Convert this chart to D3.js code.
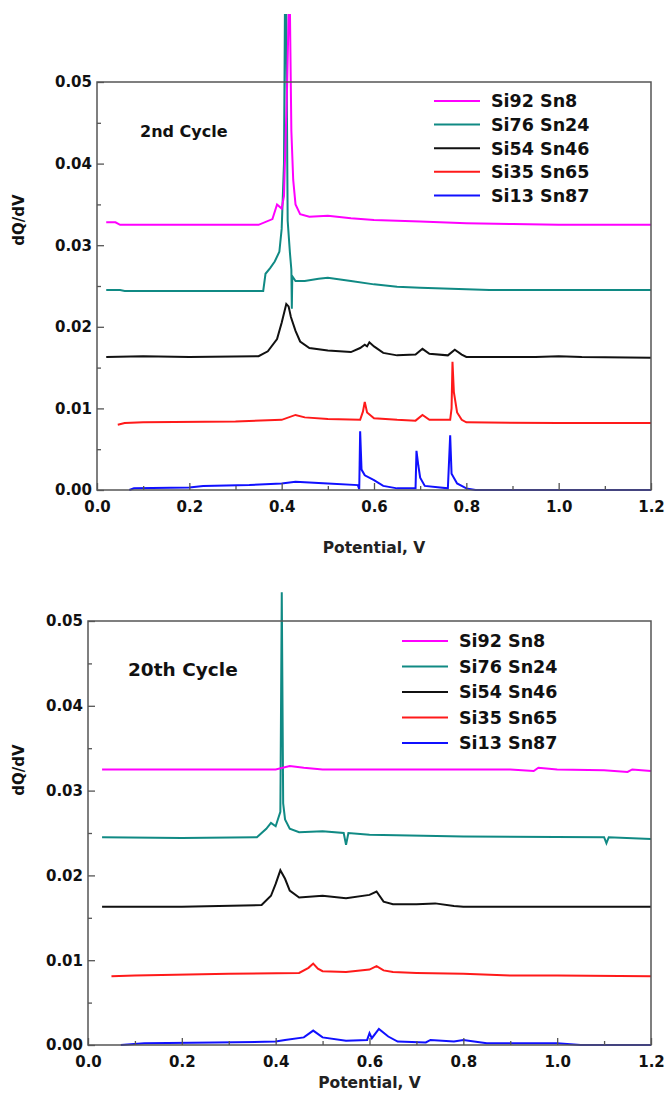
<!DOCTYPE html>
<html>
<head>
<meta charset="utf-8">
<script src="https://cdnjs.cloudflare.com/ajax/libs/d3/7.8.5/d3.min.js"></script>
<style>
  body { margin: 0; background: #fff; }
  text { font-family: "DejaVu Sans", Arial, sans-serif; }
</style>
</head>
<body>
<div id="chart"></div>
<script>
// series names and colours
let seriesNames = ["Si92 Sn8", "Si76 Sn24", "Si54 Sn46", "Si35 Sn65", "Si13 Sn87"];
let seriesColors = ["#ff00ff", "#108a84", "#111111", "#ff1a1a", "#1010ff"];

let xTicks = [0.0, 0.2, 0.4, 0.6, 0.8, 1.0, 1.2];
let yTicks = [0.00, 0.01, 0.02, 0.03, 0.04, 0.05];

// 2nd cycle, [potential V, dQ/dV]
let c2Si92 = [[0.02,0.0328],[0.04,0.0328],[0.05,0.0325],[0.2,0.0325],[0.35,0.0325],[0.38,0.0332],[0.39,0.0350],[0.40,0.0345],[0.405,0.0360],
  [0.412,0.0500],[0.415,0.0582],[0.418,0.0582],[0.421,0.0440],[0.425,0.0380],[0.43,0.0350],[0.44,0.0338],[0.46,0.0335],[0.5,0.0336],
  [0.55,0.0333],[0.6,0.0331],[0.7,0.0329],[0.8,0.0327],[0.9,0.0326],[1.0,0.0325],[1.1,0.0325],[1.2,0.0325]];
let c2Si76 = [[0.02,0.0245],[0.05,0.0245],[0.06,0.0244],[0.2,0.0244],[0.36,0.0244],[0.365,0.0265],[0.375,0.0272],[0.385,0.0280],[0.395,0.0292],
  [0.40,0.0320],[0.405,0.0400],[0.407,0.0582],[0.410,0.0582],[0.413,0.0330],[0.418,0.0290],[0.421,0.0270],[0.422,0.0222],[0.423,0.0262],
  [0.43,0.0256],[0.45,0.0256],[0.48,0.0259],[0.5,0.0260],[0.55,0.0256],[0.6,0.0252],[0.65,0.0249],[0.7,0.0248],[0.8,0.0246],[0.85,0.0245],
  [1.0,0.0245],[1.2,0.0245]];
let c2Si54 = [[0.02,0.0163],[0.1,0.0164],[0.2,0.0163],[0.35,0.0164],[0.37,0.0170],[0.39,0.0185],[0.40,0.0205],[0.41,0.0228],[0.415,0.0225],
  [0.42,0.0212],[0.43,0.0195],[0.44,0.0182],[0.46,0.0174],[0.5,0.0171],[0.55,0.0169],[0.57,0.0174],[0.58,0.0178],[0.585,0.0176],
  [0.59,0.0181],[0.60,0.0176],[0.62,0.0168],[0.65,0.0165],[0.69,0.0166],[0.705,0.0173],[0.72,0.0167],[0.76,0.0165],[0.775,0.0172],
  [0.79,0.0166],[0.8,0.0163],[0.95,0.0163],[1.0,0.0164],[1.05,0.0163],[1.2,0.0162]];
let c2Si35 = [[0.045,0.0080],[0.06,0.0082],[0.1,0.0083],[0.3,0.0084],[0.4,0.0086],[0.43,0.0092],[0.45,0.0089],[0.5,0.0087],[0.57,0.0086],
  [0.576,0.0096],[0.58,0.0108],[0.585,0.0095],[0.6,0.0088],[0.65,0.0086],[0.69,0.0085],[0.705,0.0092],[0.72,0.0086],[0.765,0.0086],
  [0.768,0.0100],[0.770,0.0157],[0.773,0.0120],[0.78,0.0095],[0.79,0.0086],[0.8,0.0083],[1.0,0.0082],[1.2,0.0082]];
let c2Si13 = [[0.07,0.0000],[0.08,0.0002],[0.2,0.0003],[0.23,0.0005],[0.33,0.0006],[0.4,0.0008],[0.43,0.0010],[0.47,0.0009],[0.5,0.0008],
  [0.565,0.0006],[0.568,0.0001],[0.570,0.0072],[0.573,0.0025],[0.58,0.0018],[0.6,0.0012],[0.62,0.0005],[0.65,0.0002],[0.69,0.0002],
  [0.692,0.0048],[0.696,0.0030],[0.70,0.0015],[0.71,0.0005],[0.76,0.0002],[0.765,0.0067],[0.768,0.0020],[0.78,0.0008],[0.80,0.0002],
  [0.82,0.0000],[1.2,0.0000]];

// 20th cycle
let c20Si92 = [[0.03,0.0325],[0.2,0.0325],[0.4,0.0325],[0.43,0.0329],[0.46,0.0327],[0.5,0.0325],[0.7,0.0325],[0.9,0.0325],[0.95,0.0323],
  [0.96,0.0327],[1.0,0.0325],[1.1,0.0324],[1.15,0.0322],[1.16,0.0325],[1.2,0.0323]];
let c20Si76 = [[0.03,0.0245],[0.2,0.0244],[0.36,0.0245],[0.38,0.0255],[0.39,0.0262],[0.40,0.0258],[0.41,0.0275],[0.413,0.0534],
  [0.416,0.0285],[0.42,0.0266],[0.43,0.0255],[0.45,0.0251],[0.5,0.0252],[0.545,0.0250],[0.55,0.0236],[0.555,0.0250],[0.6,0.0248],
  [0.8,0.0246],[1.1,0.0245],[1.105,0.0238],[1.11,0.0245],[1.2,0.0243]];
let c20Si54 = [[0.03,0.0163],[0.2,0.0163],[0.37,0.0165],[0.39,0.0176],[0.40,0.0190],[0.41,0.0206],[0.42,0.0196],[0.43,0.0182],[0.45,0.0174],
  [0.5,0.0176],[0.55,0.0173],[0.6,0.0177],[0.615,0.0181],[0.63,0.0169],[0.65,0.0166],[0.7,0.0166],[0.74,0.0167],[0.78,0.0164],
  [0.8,0.0163],[1.0,0.0163],[1.2,0.0163]];
let c20Si35 = [[0.05,0.0081],[0.1,0.0082],[0.3,0.0084],[0.45,0.0085],[0.47,0.0091],[0.48,0.0096],[0.49,0.0090],[0.5,0.0087],[0.55,0.0086],
  [0.6,0.0089],[0.615,0.0093],[0.63,0.0088],[0.65,0.0086],[0.7,0.0085],[0.8,0.0084],[0.9,0.0082],[1.0,0.0082],[1.2,0.0081]];
let c20Si13 = [[0.07,0.0000],[0.12,0.0002],[0.27,0.0003],[0.4,0.0004],[0.42,0.0006],[0.46,0.0009],[0.48,0.0017],[0.5,0.0009],[0.55,0.0005],
  [0.595,0.0006],[0.60,0.0014],[0.605,0.0008],[0.62,0.0019],[0.64,0.0010],[0.66,0.0004],[0.72,0.0003],[0.73,0.0006],[0.78,0.0004],
  [0.80,0.0006],[0.85,0.0002],[1.0,0.0002],[1.05,0.0000],[1.2,0.0000]];

let cycle2 = [c2Si92, c2Si76, c2Si54, c2Si35, c2Si13];
let cycle20 = [c20Si92, c20Si76, c20Si54, c20Si35, c20Si13];

let svg = d3.select("#chart").append("svg")
  .attr("width", 666)
  .attr("height", 1096);

function drawPanel(cfg) {
  let x = d3.scaleLinear().domain([0, 1.2]).range([cfg.left, cfg.right]);
  let y = d3.scaleLinear().domain([0, 0.05]).range([cfg.bottom, cfg.top]);
  let g = svg.append("g");

  let line = d3.line().x(d => x(d[0])).y(d => y(d[1]));
  // draw in reverse so magenta ends on top
  cfg.data.slice().reverse().forEach(function(s, i) {
    let idx = cfg.data.length - 1 - i;
    g.append("path")
      .datum(s)
      .attr("d", line)
      .attr("fill", "none")
      .attr("stroke", seriesColors[idx])
      .attr("stroke-width", 2);
  });

  // frame
  g.append("rect")
    .attr("x", cfg.left).attr("y", cfg.top)
    .attr("width", cfg.right - cfg.left).attr("height", cfg.bottom - cfg.top)
    .attr("fill", "none").attr("stroke", "#555").attr("stroke-width", 1.5);

  // axes with inward ticks
  let xAxis = d3.axisBottom(x).tickValues(xTicks).tickFormat(d3.format(".1f")).tickSize(-7).tickPadding(11);
  let gx = g.append("g").attr("transform", `translate(0, ${cfg.bottom})`).call(xAxis);
  let xMinor = d3.axisBottom(x).tickValues(d3.range(0.1, 1.2, 0.2)).tickFormat("").tickSize(-4);
  let gxm = g.append("g").attr("transform", `translate(0, ${cfg.bottom})`).call(xMinor);

  let yAxis = d3.axisLeft(y).tickValues(yTicks).tickFormat(d3.format(".2f")).tickSize(-7).tickPadding(5);
  let gy = g.append("g").attr("transform", `translate(${cfg.left}, 0)`).call(yAxis);
  let yMinor = d3.axisLeft(y).tickValues(d3.range(0.005, 0.05, 0.01)).tickFormat("").tickSize(-4);
  let gym = g.append("g").attr("transform", `translate(${cfg.left}, 0)`).call(yMinor);

  [gx, gxm, gy, gym].forEach(function(a) {
    a.select(".domain").remove();
    a.selectAll("line").attr("stroke", "#555").attr("stroke-width", 1.3);
    a.selectAll("text")
      .attr("font-size", "15px").attr("font-weight", "bold").attr("fill", "#111")
      .style("font-family", "'DejaVu Sans', Arial, sans-serif");
  });
  gx.selectAll("text").attr("dy", "0.71em");

  // axis titles
  g.append("text")
    .attr("x", (cfg.left + cfg.right) / 2)
    .attr("y", cfg.xTitleY)
    .attr("text-anchor", "middle")
    .attr("font-size", "15.5px")
    .attr("font-weight", "bold")
    .attr("fill", "#222")
    .text("Potential, V");

  g.append("text")
    .attr("transform", `translate(${cfg.yTitleX}, ${cfg.yTitleY}) rotate(-90)`)
    .attr("text-anchor", "middle")
    .attr("font-size", "15px")
    .attr("font-weight", "bold")
    .attr("fill", "#111")
    .text("dQ/dV");

  // cycle label
  g.append("text")
    .attr("x", cfg.labelX).attr("y", cfg.labelY)
    .attr("font-size", cfg.labelSize).attr("font-weight", "bold").attr("fill", "#111")
    .text(cfg.label);

  // legend
  seriesNames.forEach(function(name, i) {
    let ly = cfg.legY + i * cfg.legStep;
    g.append("line")
      .attr("x1", cfg.legX).attr("x2", cfg.legX + 46)
      .attr("y1", ly).attr("y2", ly)
      .attr("stroke", seriesColors[i]).attr("stroke-width", 2);
    g.append("text")
      .attr("x", cfg.legX + 57).attr("y", ly)
      .attr("dy", "0.36em")
      .attr("font-size", cfg.legSize).attr("font-weight", "bold").attr("fill", "#111")
      .text(name);
  });
}

drawPanel({
  data: cycle2, left: 97, right: 651, top: 82, bottom: 490,
  xTitleY: 553, yTitleX: 24, yTitleY: 220,
  label: "2nd Cycle", labelX: 140, labelY: 137, labelSize: "16px",
  legX: 434, legY: 101, legStep: 23.6, legSize: "17.5px"
});

drawPanel({
  data: cycle20, left: 88, right: 651, top: 621, bottom: 1045,
  xTitleY: 1088, yTitleX: 24, yTitleY: 770,
  label: "20th Cycle", labelX: 128, labelY: 676, labelSize: "18.5px",
  legX: 402, legY: 641, legStep: 25.5, legSize: "17.5px"
});
</script>
</body>
</html>
